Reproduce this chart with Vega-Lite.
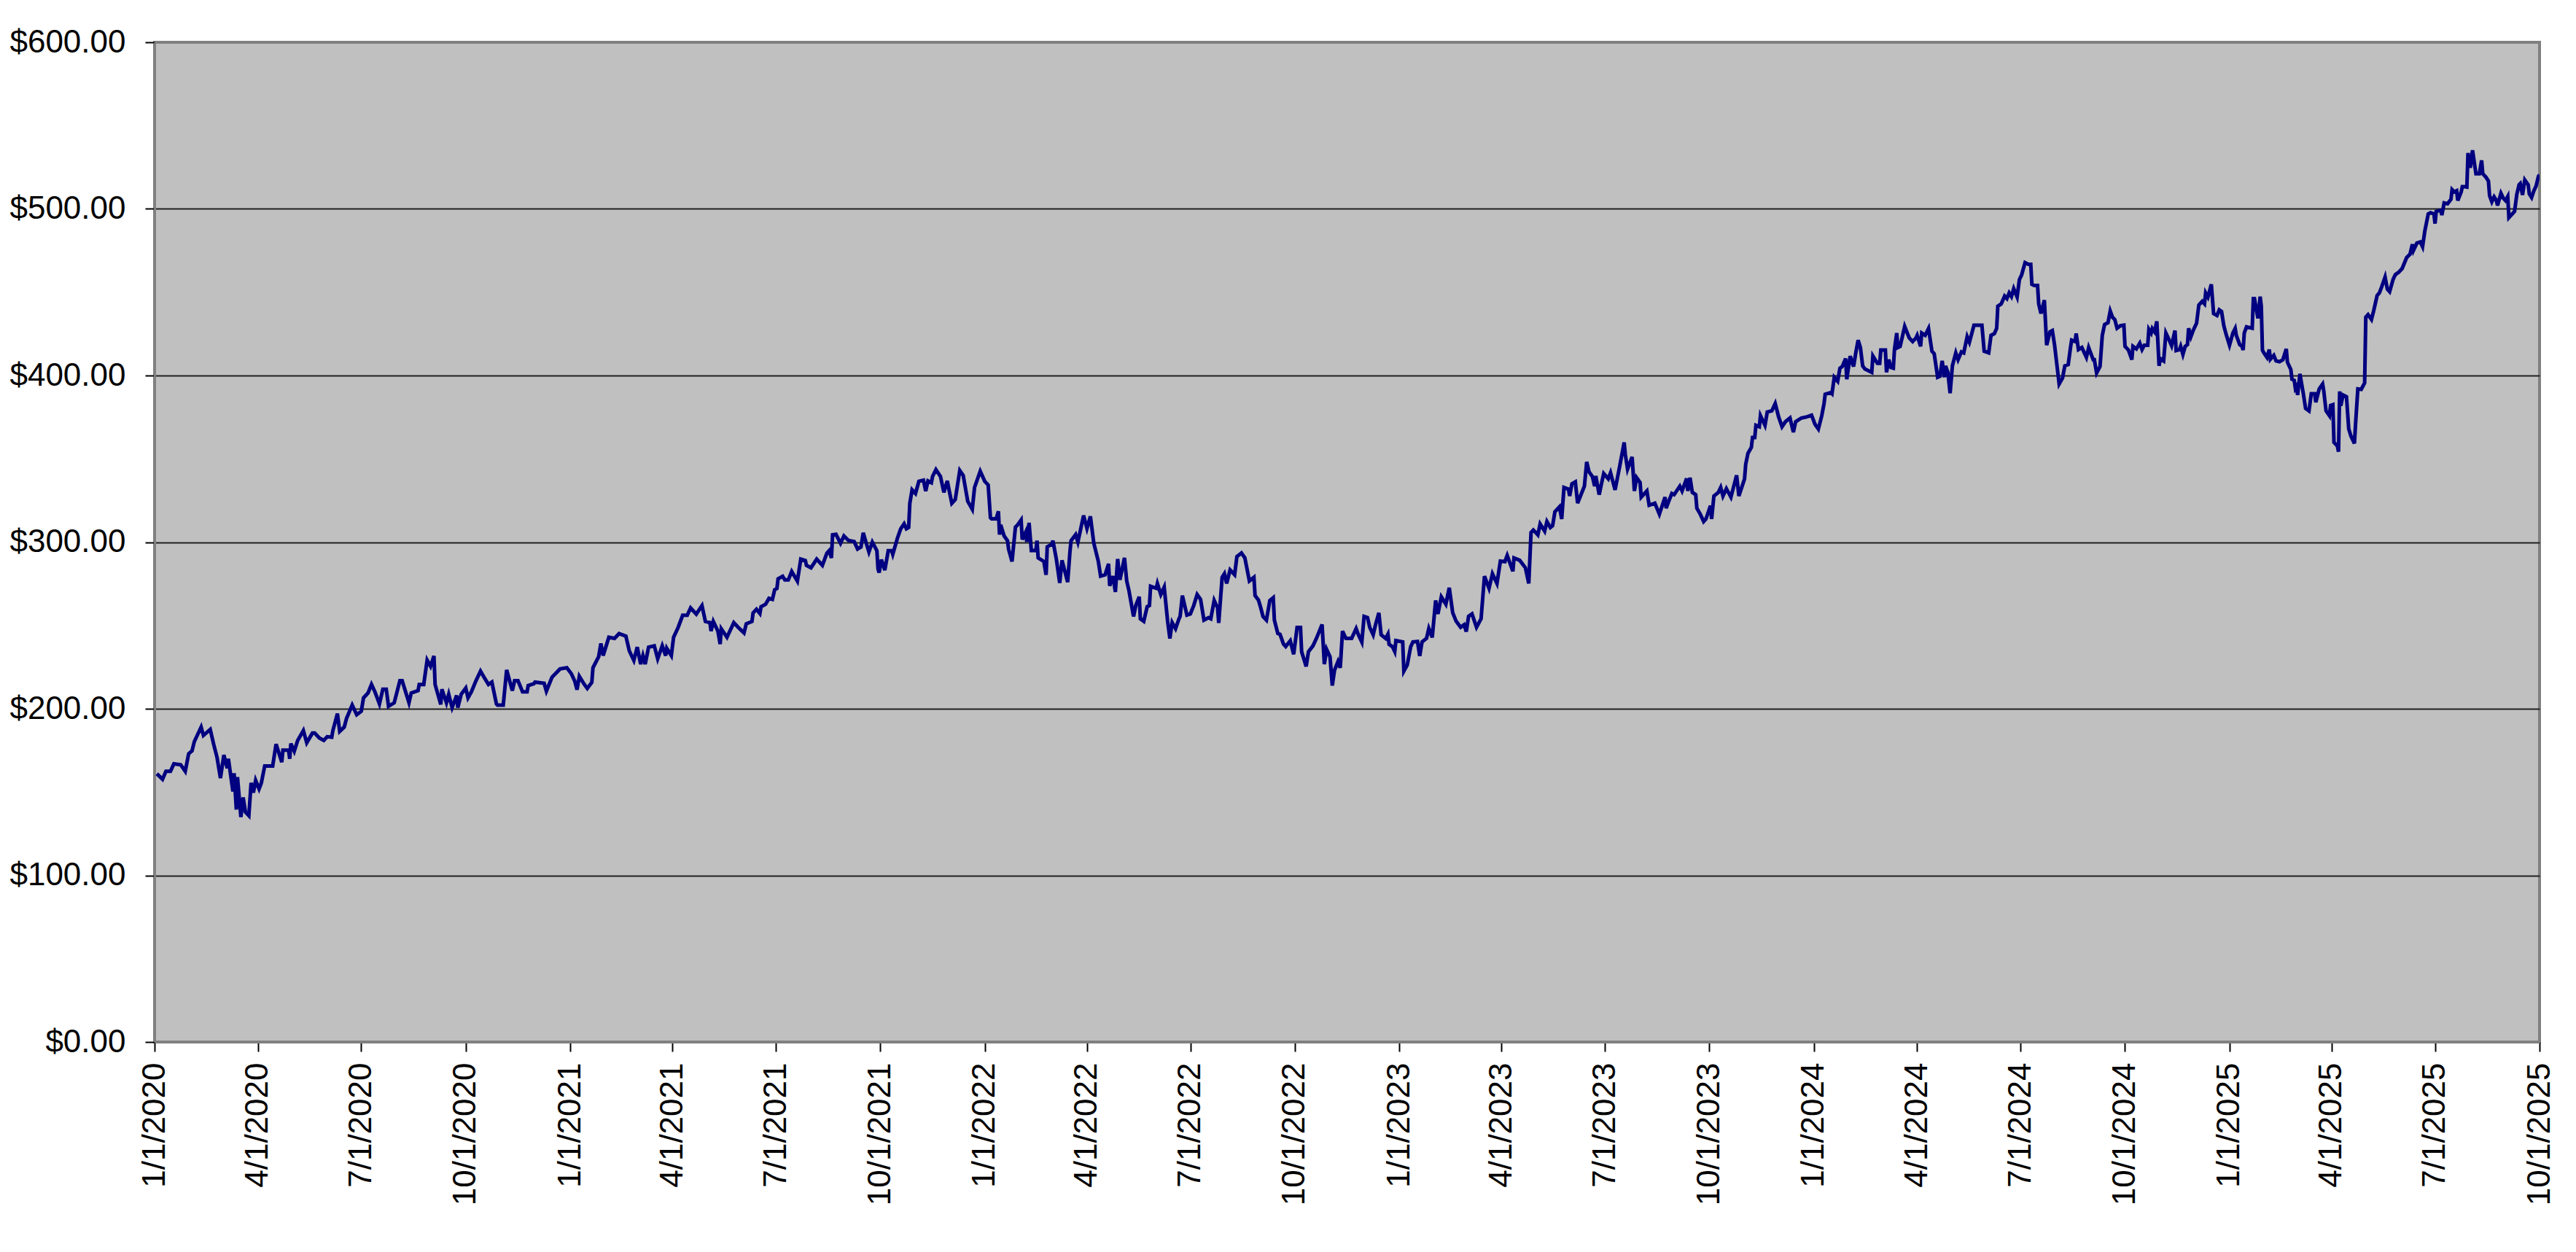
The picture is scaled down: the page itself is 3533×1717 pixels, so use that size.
{
  "$schema": "https://vega.github.io/schema/vega-lite/v6.json",
  "width": 3271,
  "height": 1371,
  "autosize": "none",
  "padding": {"left": 212, "top": 58, "right": 50, "bottom": 288},
  "background": "white",
  "config": {
    "font": "Liberation Sans",
    "view": {"fill": "#C0C0C0", "stroke": "#808080", "strokeWidth": 4}
  },
  "data": {"values": [
    {"date":"2020-01-03","price":161},{"date":"2020-01-08","price":157.7},{"date":"2020-01-11","price":162.5},{"date":"2020-01-15","price":162.5},{"date":"2020-01-18","price":167},{"date":"2020-01-24","price":166.4},{"date":"2020-01-28","price":162.5},{"date":"2020-01-31","price":173},{"date":"2020-02-03","price":174.8},{"date":"2020-02-05","price":180.3},{"date":"2020-02-08","price":184.7},{"date":"2020-02-11","price":189},{"date":"2020-02-13","price":184},{"date":"2020-02-19","price":187.6},{"date":"2020-02-22","price":178.8},{"date":"2020-02-25","price":170.8},{"date":"2020-02-28","price":158.4},{"date":"2020-03-02","price":172.3},{"date":"2020-03-05","price":164.3},{"date":"2020-03-06","price":170},{"date":"2020-03-10","price":150.4},{"date":"2020-03-11","price":161.3},{"date":"2020-03-13","price":139.5},{"date":"2020-03-14","price":159},{"date":"2020-03-17","price":135},{"date":"2020-03-19","price":146.8},{"date":"2020-03-21","price":138},{"date":"2020-03-24","price":135.8},{"date":"2020-03-26","price":155.5},{"date":"2020-03-28","price":149.7},{"date":"2020-03-30","price":157},{"date":"2020-04-02","price":151.9},{"date":"2020-04-04","price":155.5},{"date":"2020-04-07","price":165.7},{"date":"2020-04-14","price":165.7},{"date":"2020-04-17","price":178.8},{"date":"2020-04-22","price":167.9},{"date":"2020-04-23","price":175.2},{"date":"2020-04-28","price":175.2},{"date":"2020-04-29","price":170},{"date":"2020-04-30","price":179.1},{"date":"2020-05-03","price":174.5},{"date":"2020-05-06","price":181},{"date":"2020-05-11","price":186.9},{"date":"2020-05-14","price":179.6},{"date":"2020-05-19","price":185.4},{"date":"2020-05-21","price":185.4},{"date":"2020-05-25","price":182.5},{"date":"2020-05-29","price":181},{"date":"2020-06-01","price":183.2},{"date":"2020-06-05","price":182.9},{"date":"2020-06-06","price":186.9},{"date":"2020-06-10","price":197.1},{"date":"2020-06-12","price":186.4},{"date":"2020-06-16","price":189},{"date":"2020-06-18","price":194.2},{"date":"2020-06-23","price":202.2},{"date":"2020-06-27","price":196.4},{"date":"2020-07-01","price":198.5},{"date":"2020-07-03","price":206.6},{"date":"2020-07-07","price":209.5},{"date":"2020-07-10","price":214.6},{"date":"2020-07-13","price":210.2},{"date":"2020-07-17","price":202.9},{"date":"2020-07-20","price":211.7},{"date":"2020-07-23","price":211.7},{"date":"2020-07-25","price":201.5},{"date":"2020-07-30","price":203.6},{"date":"2020-08-04","price":216.8},{"date":"2020-08-06","price":216.8},{"date":"2020-08-12","price":203.6},{"date":"2020-08-14","price":209.5},{"date":"2020-08-20","price":210.9},{"date":"2020-08-21","price":214.6},{"date":"2020-08-25","price":214.6},{"date":"2020-08-28","price":229.2},{"date":"2020-08-31","price":225.5},{"date":"2020-09-03","price":231.7},{"date":"2020-09-04","price":214.6},{"date":"2020-09-09","price":202.6},{"date":"2020-09-10","price":211.7},{"date":"2020-09-14","price":203.6},{"date":"2020-09-16","price":208.7},{"date":"2020-09-19","price":200.7},{"date":"2020-09-23","price":208},{"date":"2020-09-24","price":200.7},{"date":"2020-09-27","price":208.7},{"date":"2020-10-01","price":212.4},{"date":"2020-10-03","price":206.6},{"date":"2020-10-06","price":210.2},{"date":"2020-10-10","price":216.8},{"date":"2020-10-14","price":222.6},{"date":"2020-10-17","price":219},{"date":"2020-10-21","price":214.6},{"date":"2020-10-24","price":216},{"date":"2020-10-28","price":202.9},{"date":"2020-10-29","price":202.2},{"date":"2020-11-03","price":202.2},{"date":"2020-11-06","price":223.3},{"date":"2020-11-11","price":210.9},{"date":"2020-11-13","price":216.8},{"date":"2020-11-16","price":216.8},{"date":"2020-11-20","price":210.2},{"date":"2020-11-24","price":210.2},{"date":"2020-11-25","price":213.9},{"date":"2020-11-30","price":215},{"date":"2020-12-01","price":216},{"date":"2020-12-09","price":215.3},{"date":"2020-12-11","price":210.6},{"date":"2020-12-16","price":219},
    {"date":"2020-12-23","price":223.9},{"date":"2020-12-29","price":224.6},{"date":"2021-01-02","price":221},{"date":"2021-01-05","price":216.5},{"date":"2021-01-07","price":211.4},{"date":"2021-01-09","price":219.5},{"date":"2021-01-13","price":215},{"date":"2021-01-16","price":212.2},{"date":"2021-01-20","price":215.8},{"date":"2021-01-21","price":224.6},{"date":"2021-01-26","price":231.2},{"date":"2021-01-28","price":239.2},{"date":"2021-01-30","price":231.9},{"date":"2021-02-04","price":242.9},{"date":"2021-02-09","price":242.2},{"date":"2021-02-13","price":245.1},{"date":"2021-02-19","price":243.6},{"date":"2021-02-22","price":234.8},{"date":"2021-02-26","price":229},{"date":"2021-03-01","price":237},{"date":"2021-03-04","price":226.8},{"date":"2021-03-06","price":231.9},{"date":"2021-03-08","price":226.8},{"date":"2021-03-11","price":237},{"date":"2021-03-16","price":237.8},{"date":"2021-03-19","price":230},{"date":"2021-03-23","price":237.8},{"date":"2021-03-26","price":231.9},{"date":"2021-03-27","price":236.3},{"date":"2021-03-31","price":231.9},{"date":"2021-04-02","price":242.9},{"date":"2021-04-06","price":248.8},{"date":"2021-04-10","price":256.1},{"date":"2021-04-14","price":256.1},{"date":"2021-04-17","price":260.5},{"date":"2021-04-22","price":256.8},{"date":"2021-04-27","price":261.9},{"date":"2021-04-30","price":252.4},{"date":"2021-05-04","price":251.7},{"date":"2021-05-05","price":246.6},{"date":"2021-05-07","price":252.4},{"date":"2021-05-11","price":246.6},{"date":"2021-05-13","price":238.8},{"date":"2021-05-14","price":248},{"date":"2021-05-19","price":242.9},{"date":"2021-05-25","price":251.7},{"date":"2021-05-29","price":248.8},{"date":"2021-06-03","price":245.5},{"date":"2021-06-05","price":251},{"date":"2021-06-10","price":252.4},{"date":"2021-06-11","price":257.5},{"date":"2021-06-14","price":259.7},{"date":"2021-06-17","price":257.2},{"date":"2021-06-18","price":261.2},{"date":"2021-06-22","price":262.7},{"date":"2021-06-25","price":266.3},{"date":"2021-06-28","price":265.6},{"date":"2021-06-30","price":271.4},{"date":"2021-07-02","price":272.2},{"date":"2021-07-03","price":278},{"date":"2021-07-07","price":279.5},{"date":"2021-07-09","price":277.3},{"date":"2021-07-12","price":277.3},{"date":"2021-07-15","price":282.4},{"date":"2021-07-20","price":276.6},{"date":"2021-07-23","price":289.8},{"date":"2021-07-27","price":289},{"date":"2021-07-28","price":286.1},{"date":"2021-08-01","price":284.6},{"date":"2021-08-06","price":289.8},{"date":"2021-08-11","price":286.1},{"date":"2021-08-15","price":293.4},{"date":"2021-08-17","price":294.9},{"date":"2021-08-19","price":290.5},{"date":"2021-08-20","price":304.4},{"date":"2021-08-23","price":304.7},{"date":"2021-08-27","price":299.3},{"date":"2021-08-30","price":303.7},{"date":"2021-09-03","price":301},{"date":"2021-09-08","price":300.3},{"date":"2021-09-11","price":295.9},{"date":"2021-09-14","price":297.1},{"date":"2021-09-16","price":305.6},{"date":"2021-09-19","price":298.5},{"date":"2021-09-21","price":294.1},{"date":"2021-09-24","price":300},{"date":"2021-09-28","price":294.9},{"date":"2021-09-29","price":283.9},{"date":"2021-09-30","price":281.7},{"date":"2021-10-02","price":289.5},{"date":"2021-10-05","price":283.2},{"date":"2021-10-08","price":294.9},{"date":"2021-10-11","price":294.9},{"date":"2021-10-12","price":292.7},
    {"date":"2021-10-16","price":302.2},{"date":"2021-10-19","price":308},{"date":"2021-10-22","price":311},{"date":"2021-10-24","price":308},{"date":"2021-10-26","price":308.8},{"date":"2021-10-27","price":323.3},{"date":"2021-10-29","price":331.4},{"date":"2021-11-01","price":329.2},{"date":"2021-11-04","price":336.5},{"date":"2021-11-08","price":337.2},{"date":"2021-11-10","price":330.6},{"date":"2021-11-12","price":336.8},{"date":"2021-11-15","price":335.7},{"date":"2021-11-16","price":339.4},{"date":"2021-11-19","price":343.5},{"date":"2021-11-23","price":339.4},{"date":"2021-11-26","price":329.9},{"date":"2021-11-29","price":336.8},{"date":"2021-12-01","price":329.9},{"date":"2021-12-03","price":323.3},{"date":"2021-12-06","price":325.5},{"date":"2021-12-08","price":334.3},{"date":"2021-12-10","price":343},{"date":"2021-12-13","price":340.1},{"date":"2021-12-17","price":324.5},{"date":"2021-12-21","price":319.7},{"date":"2021-12-23","price":332.8},{"date":"2021-12-28","price":342.6},{"date":"2022-01-01","price":336.5},{"date":"2022-01-04","price":334.3},{"date":"2022-01-06","price":314.6},
    {"date":"2022-01-07","price":314},{"date":"2022-01-11","price":314},{"date":"2022-01-13","price":318.5},{"date":"2022-01-14","price":304.5},{"date":"2022-01-15","price":310.4},{"date":"2022-01-18","price":303.8},{"date":"2022-01-21","price":300.9},{"date":"2022-01-22","price":295.7},{"date":"2022-01-25","price":288.4},{"date":"2022-01-28","price":309},{"date":"2022-01-30","price":310.4},{"date":"2022-02-02","price":313.3},{"date":"2022-02-03","price":301.6},{"date":"2022-02-06","price":306},{"date":"2022-02-07","price":300.1},{"date":"2022-02-09","price":311.6},{"date":"2022-02-11","price":295},{"date":"2022-02-15","price":295},{"date":"2022-02-16","price":300.9},{"date":"2022-02-17","price":290.6},{"date":"2022-02-22","price":288.4},{"date":"2022-02-24","price":280.4},{"date":"2022-02-25","price":297.2},{"date":"2022-03-01","price":298.7},{"date":"2022-03-02","price":300.9},{"date":"2022-03-05","price":289.9},{"date":"2022-03-08","price":275.5},{"date":"2022-03-10","price":289.1},{"date":"2022-03-15","price":276},{"date":"2022-03-17","price":294.3},{"date":"2022-03-18","price":300.9},{"date":"2022-03-22","price":304.5},{"date":"2022-03-24","price":300.1},{"date":"2022-03-29","price":316},{"date":"2022-04-01","price":308.2},{"date":"2022-04-04","price":315.5},{"date":"2022-04-07","price":299.4},{"date":"2022-04-11","price":288.4},{"date":"2022-04-13","price":279.6},{"date":"2022-04-17","price":280.4},{"date":"2022-04-20","price":287},{"date":"2022-04-21","price":273.8},{"date":"2022-04-24","price":279.6},{"date":"2022-04-26","price":270.1},{"date":"2022-04-28","price":289.9},{"date":"2022-04-30","price":277.4},{"date":"2022-05-04","price":290.6},{"date":"2022-05-06","price":276.7},{"date":"2022-05-08","price":270.8},{"date":"2022-05-12","price":255.4},{"date":"2022-05-14","price":262},{"date":"2022-05-17","price":267.2},{"date":"2022-05-18","price":254},{"date":"2022-05-21","price":252.5},{"date":"2022-05-24","price":261.3},{"date":"2022-05-26","price":262},{"date":"2022-05-27","price":273.5},{"date":"2022-06-01","price":272.3},{"date":"2022-06-02","price":275.2},{"date":"2022-06-05","price":268.6},{"date":"2022-06-08","price":273},{"date":"2022-06-11","price":252.5},{"date":"2022-06-13","price":242.2},{"date":"2022-06-15","price":251.8},{"date":"2022-06-18","price":248.1},{"date":"2022-06-21","price":254},{"date":"2022-06-22","price":255.4},{"date":"2022-06-24","price":267.9},{"date":"2022-06-28","price":256.2},{"date":"2022-07-01","price":256.9},{"date":"2022-07-04","price":262},{"date":"2022-07-07","price":268.6},{"date":"2022-07-10","price":265.7},{"date":"2022-07-13","price":253.2},{"date":"2022-07-17","price":254.7},{"date":"2022-07-19","price":254},{"date":"2022-07-22","price":265},{"date":"2022-07-25","price":260.6},{"date":"2022-07-26","price":251.5},{"date":"2022-07-29","price":278.9},{"date":"2022-07-31","price":281.1},{"date":"2022-08-02","price":275.2},{"date":"2022-08-05","price":283.3},{"date":"2022-08-09","price":280.4},{"date":"2022-08-11","price":291.3},{"date":"2022-08-15","price":293.5},{"date":"2022-08-18","price":290.6},{"date":"2022-08-22","price":276.7},{"date":"2022-08-26","price":278.9},{"date":"2022-08-27","price":267.9},{"date":"2022-08-30","price":265.2},{"date":"2022-09-01","price":260.6},{"date":"2022-09-03","price":255.4},{"date":"2022-09-06","price":253.2},{"date":"2022-09-09","price":265},{"date":"2022-09-12","price":266.7},{"date":"2022-09-13","price":253.2},{"date":"2022-09-16","price":245.2},{"date":"2022-09-18","price":244.7},{"date":"2022-09-21","price":238.9},{"date":"2022-09-23","price":237.4},{"date":"2022-09-27","price":240.8},{"date":"2022-09-30","price":232.7},{"date":"2022-10-03","price":248.8},{"date":"2022-10-06","price":248.8},{"date":"2022-10-07","price":234.2},{"date":"2022-10-11","price":225.4},{"date":"2022-10-13","price":234.2},{"date":"2022-10-17","price":237.8},{"date":"2022-10-20","price":242.2},{"date":"2022-10-25","price":250.6},{"date":"2022-10-27","price":226.8},{"date":"2022-10-29","price":235.6},{"date":"2022-11-01","price":231.2},{"date":"2022-11-03","price":213.9},{"date":"2022-11-05","price":223.2},{"date":"2022-11-08","price":228.3},{"date":"2022-11-10","price":224.6},{"date":"2022-11-12","price":246.6},{"date":"2022-11-15","price":242.2},{"date":"2022-11-20","price":242.2},{"date":"2022-11-24","price":248.1},{"date":"2022-11-26","price":244.4},{"date":"2022-11-29","price":240},{"date":"2022-12-01","price":255.4},{"date":"2022-12-04","price":254.7},{"date":"2022-12-06","price":248.8},{"date":"2022-12-09","price":244.4},{"date":"2022-12-11","price":250.3},{"date":"2022-12-14","price":257.6},{"date":"2022-12-16","price":244.4},{"date":"2022-12-20","price":242.2},
    {"date":"2022-12-22","price":244.8},{"date":"2022-12-23","price":238.7},{"date":"2022-12-26","price":237.2},{"date":"2022-12-28","price":234.3},{"date":"2022-12-29","price":240.9},{"date":"2023-01-04","price":240.1},{"date":"2023-01-05","price":222.6},{"date":"2023-01-08","price":226.3},{"date":"2023-01-11","price":237.2},{"date":"2023-01-13","price":240.1},{"date":"2023-01-17","price":240.4},{"date":"2023-01-19","price":231.7},{"date":"2023-01-21","price":240.1},{"date":"2023-01-25","price":242.3},{"date":"2023-01-27","price":248.2},{"date":"2023-01-30","price":242.8},{"date":"2023-02-02","price":265},{"date":"2023-02-04","price":256.9},{"date":"2023-02-07","price":267.2},{"date":"2023-02-11","price":262.8},{"date":"2023-02-14","price":272.6},{"date":"2023-02-17","price":257.7},{"date":"2023-02-20","price":252.6},{"date":"2023-02-24","price":248.9},{"date":"2023-02-27","price":250.4},{"date":"2023-03-01","price":246.3},{"date":"2023-03-03","price":255.5},{"date":"2023-03-06","price":256.9},{"date":"2023-03-10","price":248.9},{"date":"2023-03-14","price":254},{"date":"2023-03-17","price":279.6},{"date":"2023-03-21","price":272.3},{"date":"2023-03-24","price":281},{"date":"2023-03-28","price":275.2},{"date":"2023-03-31","price":288.6},{"date":"2023-04-04","price":288.3},{"date":"2023-04-06","price":292},{"date":"2023-04-11","price":282.5},{"date":"2023-04-12","price":290.5},{"date":"2023-04-17","price":289.1},{"date":"2023-04-22","price":284.7},{"date":"2023-04-25","price":275.2},{"date":"2023-04-27","price":305.8},{"date":"2023-04-29","price":307.3},{"date":"2023-05-03","price":304.4},{"date":"2023-05-05","price":310.9},{"date":"2023-05-09","price":306.6},{"date":"2023-05-11","price":312.4},{"date":"2023-05-14","price":308.8},{"date":"2023-05-16","price":309.9},{"date":"2023-05-18","price":318.2},{"date":"2023-05-22","price":321.2},{"date":"2023-05-24","price":313.9},{"date":"2023-05-26","price":332.8},{"date":"2023-05-30","price":331.8},{"date":"2023-05-31","price":327.7},{"date":"2023-06-02","price":335},{"date":"2023-06-05","price":336.2},{"date":"2023-06-07","price":323.4},{"date":"2023-06-13","price":333.6},{"date":"2023-06-15","price":348.2},{"date":"2023-06-17","price":342.3},{"date":"2023-06-20","price":339.4},{"date":"2023-06-22","price":333.6},{"date":"2023-06-23","price":339.7},{"date":"2023-06-26","price":328.5},{"date":"2023-06-28","price":335},{"date":"2023-06-30","price":341.2},{"date":"2023-07-04","price":338},{"date":"2023-07-06","price":341.6},{"date":"2023-07-10","price":331.4},{"date":"2023-07-14","price":345.3},{"date":"2023-07-18","price":359.9},{"date":"2023-07-19","price":352.6},{"date":"2023-07-21","price":343.8},{"date":"2023-07-25","price":351.1},{"date":"2023-07-27","price":330.7},{"date":"2023-07-29","price":338.7},{"date":"2023-08-01","price":335.8},{"date":"2023-08-02","price":327},{"date":"2023-08-07","price":330.7},{"date":"2023-08-09","price":322.2},{"date":"2023-08-14","price":323.4},{"date":"2023-08-18","price":316.8},{"date":"2023-08-23","price":327},{"date":"2023-08-24","price":320.4},{"date":"2023-08-26","price":324.1},{"date":"2023-08-29","price":329.2},{"date":"2023-08-31","price":328.5},{"date":"2023-09-05","price":333.6},{"date":"2023-09-07","price":330.7},{"date":"2023-09-11","price":338.2},{"date":"2023-09-12","price":330.7},{"date":"2023-09-14","price":338.7},{"date":"2023-09-16","price":329.9},{"date":"2023-09-19","price":328.5},{"date":"2023-09-20","price":320.4},{"date":"2023-09-23","price":316.8},{"date":"2023-09-26","price":312.4},{"date":"2023-09-28","price":313.9},{"date":"2023-10-02","price":321.9},{"date":"2023-10-03","price":313.9},{"date":"2023-10-05","price":327.7},{"date":"2023-10-09","price":329.9},{"date":"2023-10-11","price":332.8},{"date":"2023-10-13","price":327.7},{"date":"2023-10-16","price":332.1},{"date":"2023-10-20","price":327},{"date":"2023-10-25","price":340.1},{"date":"2023-10-27","price":327.7},{"date":"2023-11-01","price":338},{"date":"2023-11-02","price":346.7},{"date":"2023-11-04","price":353.3},{"date":"2023-11-07","price":356.9},{"date":"2023-11-08","price":362.8},{"date":"2023-11-10","price":362.8},{"date":"2023-11-11","price":370.1},{"date":"2023-11-14","price":369.3},{"date":"2023-11-15","price":375.9},{"date":"2023-11-19","price":370.1},{"date":"2023-11-21","price":378.1},{"date":"2023-11-25","price":378.8},{"date":"2023-11-28","price":383.2},{"date":"2023-12-01","price":375.2},{"date":"2023-12-04","price":369.3},{"date":"2023-12-07","price":372.3},{"date":"2023-12-11","price":374.5},{"date":"2023-12-14","price":366},{"date":"2023-12-16","price":372.3},{"date":"2023-12-21","price":374.5},{"date":"2023-12-26","price":375.2},
    {"date":"2023-12-30","price":376.2},{"date":"2024-01-02","price":370.8},{"date":"2024-01-05","price":367.9},{"date":"2024-01-08","price":375.9},{"date":"2024-01-10","price":383.2},{"date":"2024-01-11","price":388.8},{"date":"2024-01-16","price":389.8},{"date":"2024-01-17","price":389.1},{"date":"2024-01-19","price":399},{"date":"2024-01-22","price":396.6},{"date":"2024-01-24","price":404.4},{"date":"2024-01-26","price":405.4},{"date":"2024-01-29","price":410.2},{"date":"2024-01-30","price":397.8},{"date":"2024-02-02","price":411.7},{"date":"2024-02-05","price":405.4},{"date":"2024-02-07","price":413.9},{"date":"2024-02-09","price":421.2},{"date":"2024-02-11","price":416.8},{"date":"2024-02-13","price":405.8},{"date":"2024-02-15","price":403.9},{"date":"2024-02-21","price":401.9},{"date":"2024-02-22","price":411.7},{"date":"2024-02-26","price":407.3},{"date":"2024-02-28","price":407.3},{"date":"2024-02-29","price":415.3},{"date":"2024-03-04","price":415.3},{"date":"2024-03-05","price":401.9},{"date":"2024-03-07","price":409.5},{"date":"2024-03-09","price":404.8},{"date":"2024-03-11","price":404.4},{"date":"2024-03-12","price":415.6},{"date":"2024-03-14","price":425.5},{"date":"2024-03-15","price":416.8},{"date":"2024-03-17","price":417.5},{"date":"2024-03-21","price":429.5},{"date":"2024-03-25","price":422.6},{"date":"2024-03-28","price":420.4},{"date":"2024-03-31","price":422.6},{"date":"2024-04-01","price":424.1},{"date":"2024-04-04","price":417.5},{"date":"2024-04-05","price":425.5},{"date":"2024-04-08","price":424.1},{"date":"2024-04-11","price":428.2},{"date":"2024-04-14","price":414.6},{"date":"2024-04-16","price":413.1},{"date":"2024-04-19","price":399},{"date":"2024-04-21","price":399.6},{"date":"2024-04-23","price":408.8},{"date":"2024-04-25","price":399},{"date":"2024-04-26","price":405.8},{"date":"2024-04-28","price":401.9},{"date":"2024-04-30","price":389.4},{"date":"2024-05-02","price":405.8},{"date":"2024-05-05","price":413.6},{"date":"2024-05-07","price":409.5},{"date":"2024-05-10","price":414.2},{"date":"2024-05-12","price":413.6},{"date":"2024-05-15","price":423.3},{"date":"2024-05-17","price":420},{"date":"2024-05-21","price":430.2},{"date":"2024-05-24","price":430.2},{"date":"2024-05-28","price":430.2},{"date":"2024-05-30","price":414.6},{"date":"2024-06-03","price":413.6},{"date":"2024-06-05","price":424.1},{"date":"2024-06-08","price":425.2},{"date":"2024-06-10","price":428.4},{"date":"2024-06-11","price":441.6},{"date":"2024-06-14","price":443},{"date":"2024-06-17","price":447.7},{"date":"2024-06-19","price":446.2},{"date":"2024-06-21","price":449.6},{"date":"2024-06-23","price":447.4},{"date":"2024-06-25","price":452.1},{"date":"2024-06-28","price":447.1},{"date":"2024-06-30","price":457.6},{"date":"2024-07-02","price":460.5},{"date":"2024-07-05","price":467.8},{"date":"2024-07-08","price":466.7},{"date":"2024-07-10","price":466.7},{"date":"2024-07-11","price":454.7},{"date":"2024-07-13","price":454},{"date":"2024-07-16","price":454},{"date":"2024-07-17","price":443},{"date":"2024-07-19","price":437.2},{"date":"2024-07-22","price":445.2},{"date":"2024-07-24","price":418.2},{"date":"2024-07-27","price":426.3},{"date":"2024-07-29","price":427},{"date":"2024-07-31","price":418.2},{"date":"2024-08-02","price":406.6},{"date":"2024-08-04","price":394.9},{"date":"2024-08-07","price":398.5},{"date":"2024-08-09","price":405.8},{"date":"2024-08-12","price":406.6},{"date":"2024-08-14","price":416.8},{"date":"2024-08-15","price":421.2},{"date":"2024-08-18","price":420.4},{"date":"2024-08-19","price":425.2},{"date":"2024-08-21","price":415.6},{"date":"2024-08-24","price":416.8},{"date":"2024-08-28","price":410.9},{"date":"2024-08-30","price":416.8},{"date":"2024-09-03","price":409.5},{"date":"2024-09-04","price":409.5},{"date":"2024-09-06","price":401.5},{"date":"2024-09-09","price":405.4},{"date":"2024-09-11","price":424.1},{"date":"2024-09-13","price":430.6},{"date":"2024-09-16","price":431.7},{"date":"2024-09-18","price":438.7},{"date":"2024-09-20","price":435},{"date":"2024-09-22","price":433.6},{"date":"2024-09-24","price":428.4},{"date":"2024-09-27","price":429.9},{"date":"2024-09-30","price":430.2},{"date":"2024-10-01","price":417.5},{"date":"2024-10-04","price":415.3},{"date":"2024-10-07","price":409.5},{"date":"2024-10-08","price":417.5},{"date":"2024-10-11","price":416},{"date":"2024-10-14","price":419.4},{"date":"2024-10-16","price":415.6},{"date":"2024-10-18","price":418.2},{"date":"2024-10-21","price":418.2},{"date":"2024-10-22","price":427.7},{"date":"2024-10-24","price":425.5},{"date":"2024-10-25","price":428.2},{"date":"2024-10-27","price":426.3},{"date":"2024-10-29","price":432.5},{"date":"2024-10-31","price":405.8},{"date":"2024-11-01","price":410.2},{"date":"2024-11-04","price":408.8},{"date":"2024-11-06","price":425.5},{"date":"2024-11-08","price":422.6},{"date":"2024-11-11","price":417.9},{"date":"2024-11-14","price":427},{"date":"2024-11-15","price":415},{"date":"2024-11-18","price":415.6},{"date":"2024-11-19","price":417.5},{"date":"2024-11-21","price":412.7},{"date":"2024-11-23","price":417.5},{"date":"2024-11-25","price":418.5},{"date":"2024-11-26","price":428.4},{"date":"2024-11-28","price":423.3},{"date":"2024-11-30","price":427},{"date":"2024-12-03","price":431.4},{"date":"2024-12-05","price":442.3},{"date":"2024-12-08","price":444.5},{"date":"2024-12-10","price":443},{"date":"2024-12-11","price":449.6},{"date":"2024-12-13","price":447.1},{"date":"2024-12-16","price":454.7},{"date":"2024-12-18","price":437.2},{"date":"2024-12-21","price":436},
    {"date":"2024-12-23","price":439.4},{"date":"2024-12-25","price":438.4},{"date":"2024-12-27","price":429.9},{"date":"2024-12-29","price":424.8},{"date":"2025-01-01","price":418.2},{"date":"2025-01-04","price":425.5},{"date":"2025-01-06","price":428.2},{"date":"2025-01-07","price":424.1},{"date":"2025-01-10","price":418.5},{"date":"2025-01-12","price":417.5},{"date":"2025-01-13","price":415.3},{"date":"2025-01-14","price":425.5},{"date":"2025-01-16","price":429.2},{"date":"2025-01-21","price":428.4},{"date":"2025-01-22","price":446.2},{"date":"2025-01-23","price":446.2},{"date":"2025-01-26","price":434.3},{"date":"2025-01-28","price":447.4},{"date":"2025-01-29","price":441.6},{"date":"2025-01-30","price":415.3},{"date":"2025-01-31","price":413.9},{"date":"2025-02-03","price":410.9},{"date":"2025-02-05","price":415.6},{"date":"2025-02-06","price":409.8},{"date":"2025-02-09","price":412.1},{"date":"2025-02-11","price":408.8},{"date":"2025-02-14","price":408.3},{"date":"2025-02-17","price":409.5},{"date":"2025-02-20","price":416},{"date":"2025-02-21","price":408},{"date":"2025-02-24","price":403.6},{"date":"2025-02-25","price":397.8},{"date":"2025-02-27","price":397.1},{"date":"2025-02-28","price":392.3},{"date":"2025-03-01","price":393.4},{"date":"2025-03-02","price":388.3},{"date":"2025-03-04","price":401},{"date":"2025-03-07","price":389.1},{"date":"2025-03-09","price":380.3},{"date":"2025-03-12","price":378.8},{"date":"2025-03-14","price":389.1},{"date":"2025-03-17","price":389.1},{"date":"2025-03-18","price":384},{"date":"2025-03-21","price":392},{"date":"2025-03-24","price":394.9},{"date":"2025-03-25","price":390.8},{"date":"2025-03-27","price":378.8},{"date":"2025-03-30","price":375.9},{"date":"2025-03-31","price":382},{"date":"2025-04-02","price":382.5},{"date":"2025-04-03","price":359.9},{"date":"2025-04-06","price":357.7},{"date":"2025-04-07","price":354.3},{"date":"2025-04-08","price":390.5},{"date":"2025-04-09","price":381.8},{"date":"2025-04-11","price":388.3},{"date":"2025-04-14","price":387.3},{"date":"2025-04-16","price":367.9},{"date":"2025-04-18","price":363.5},{"date":"2025-04-21","price":359.2},{"date":"2025-04-22","price":370.8},{"date":"2025-04-24","price":392},{"date":"2025-04-27","price":391.7},{"date":"2025-04-30","price":395.6},{"date":"2025-05-01","price":435},{"date":"2025-05-03","price":436.5},{"date":"2025-05-06","price":433.6},{"date":"2025-05-08","price":439},{"date":"2025-05-11","price":448.1},{"date":"2025-05-13","price":449.6},{"date":"2025-05-15","price":453.2},{"date":"2025-05-18","price":459.1},{"date":"2025-05-20","price":451.8},{"date":"2025-05-22","price":450.3},{"date":"2025-05-25","price":457.6},{"date":"2025-05-27","price":460.5},{"date":"2025-05-30","price":462},{"date":"2025-06-02","price":464.2},{"date":"2025-06-06","price":470.8},{"date":"2025-06-09","price":472.9},{"date":"2025-06-11","price":478.8},{"date":"2025-06-12","price":475.1},{"date":"2025-06-15","price":479.5},{"date":"2025-06-18","price":480.2},{"date":"2025-06-20","price":477.3},{"date":"2025-06-22","price":486.8},{"date":"2025-06-25","price":497},{"date":"2025-06-27","price":497.7},{"date":"2025-06-30","price":497},{"date":"2025-07-01","price":491.2},{"date":"2025-07-02","price":498.5},{"date":"2025-07-06","price":499.2},{"date":"2025-07-07","price":496.3},{"date":"2025-07-09","price":503.6},{"date":"2025-07-12","price":503.1},{"date":"2025-07-15","price":505.8},{"date":"2025-07-16","price":511.6},{"date":"2025-07-18","price":510.2},{"date":"2025-07-20","price":510.9},{"date":"2025-07-21","price":505},{"date":"2025-07-24","price":510.2},{"date":"2025-07-25","price":513.3},{"date":"2025-07-27","price":513.3},{"date":"2025-07-29","price":513.1},{"date":"2025-07-30","price":533.5},{"date":"2025-08-01","price":524.7},{"date":"2025-08-03","price":535.2},{"date":"2025-08-06","price":521.1},{"date":"2025-08-09","price":521.1},{"date":"2025-08-11","price":529.1},{"date":"2025-08-12","price":521.1},{"date":"2025-08-15","price":518.9},{"date":"2025-08-17","price":516.7},{"date":"2025-08-18","price":508},{"date":"2025-08-20","price":504.3},{"date":"2025-08-22","price":507.2},{"date":"2025-08-24","price":505},{"date":"2025-08-25","price":502.1},{"date":"2025-08-28","price":509.4},{"date":"2025-08-30","price":506.5},{"date":"2025-09-01","price":505},{"date":"2025-09-03","price":507.5},{"date":"2025-09-04","price":494.8},{"date":"2025-09-06","price":496.3},{"date":"2025-09-09","price":498.5},{"date":"2025-09-11","price":508.8},{"date":"2025-09-13","price":514.5},{"date":"2025-09-14","price":515.2},{"date":"2025-09-16","price":508.4},{"date":"2025-09-18","price":517.4},{"date":"2025-09-21","price":514.5},{"date":"2025-09-22","price":509},{"date":"2025-09-24","price":506.9},{"date":"2025-09-26","price":510.9},{"date":"2025-09-28","price":513.8},{"date":"2025-09-30","price":519.6},{"date":"2025-10-01","price":520.5}
  ]},
  "mark": {"type": "line", "color": "#000080", "strokeWidth": 5, "clip": true},
  "encoding": {
    "x": {
      "field": "date",
      "type": "temporal",
      "scale": {
        "type": "utc",
        "domain": [{"year": 2020, "month": 1, "date": 1, "utc": true}, {"year": 2025, "month": 10, "date": 1, "utc": true}],
        "nice": false
      },
      "axis": {
        "title": null,
        "grid": false,
        "tickCount": {"interval": "month", "step": 3},
        "labelExpr": "utcFormat(datum.value, '%-m/%-d/%Y')",
        "labelAngle": -90,
        "labelAlign": "right",
        "labelBaseline": "middle",
        "labelFont": "Liberation Sans",
        "labelFontSize": 44,
        "labelColor": "#000000",
        "labelPadding": 15,
        "labelFlush": false,
        "labelOverlap": false,
        "labelBound": false,
        "labelLimit": 0,
        "tickSize": 13,
        "tickColor": "#000000",
        "tickWidth": 2,
        "domainColor": "#808080",
        "domainWidth": 3
      }
    },
    "y": {
      "field": "price",
      "type": "quantitative",
      "scale": {"domain": [0, 600], "nice": false, "zero": true},
      "axis": {
        "title": null,
        "values": [0, 100, 200, 300, 400, 500, 600],
        "format": "$.2f",
        "grid": true,
        "gridColor": {"condition": {"test": "datum.value >= 600 || datum.value <= 0", "value": "#808080"}, "value": "#202020"},
        "gridWidth": 2,
        "labelFont": "Liberation Sans",
        "labelFontSize": 44,
        "labelColor": "#000000",
        "labelPadding": 27,
        "labelFlush": false,
        "labelOverlap": false,
        "labelLimit": 0,
        "tickSize": 13,
        "tickColor": "#000000",
        "tickWidth": 2,
        "domainColor": "#808080",
        "domainWidth": 3
      }
    }
  }
}
